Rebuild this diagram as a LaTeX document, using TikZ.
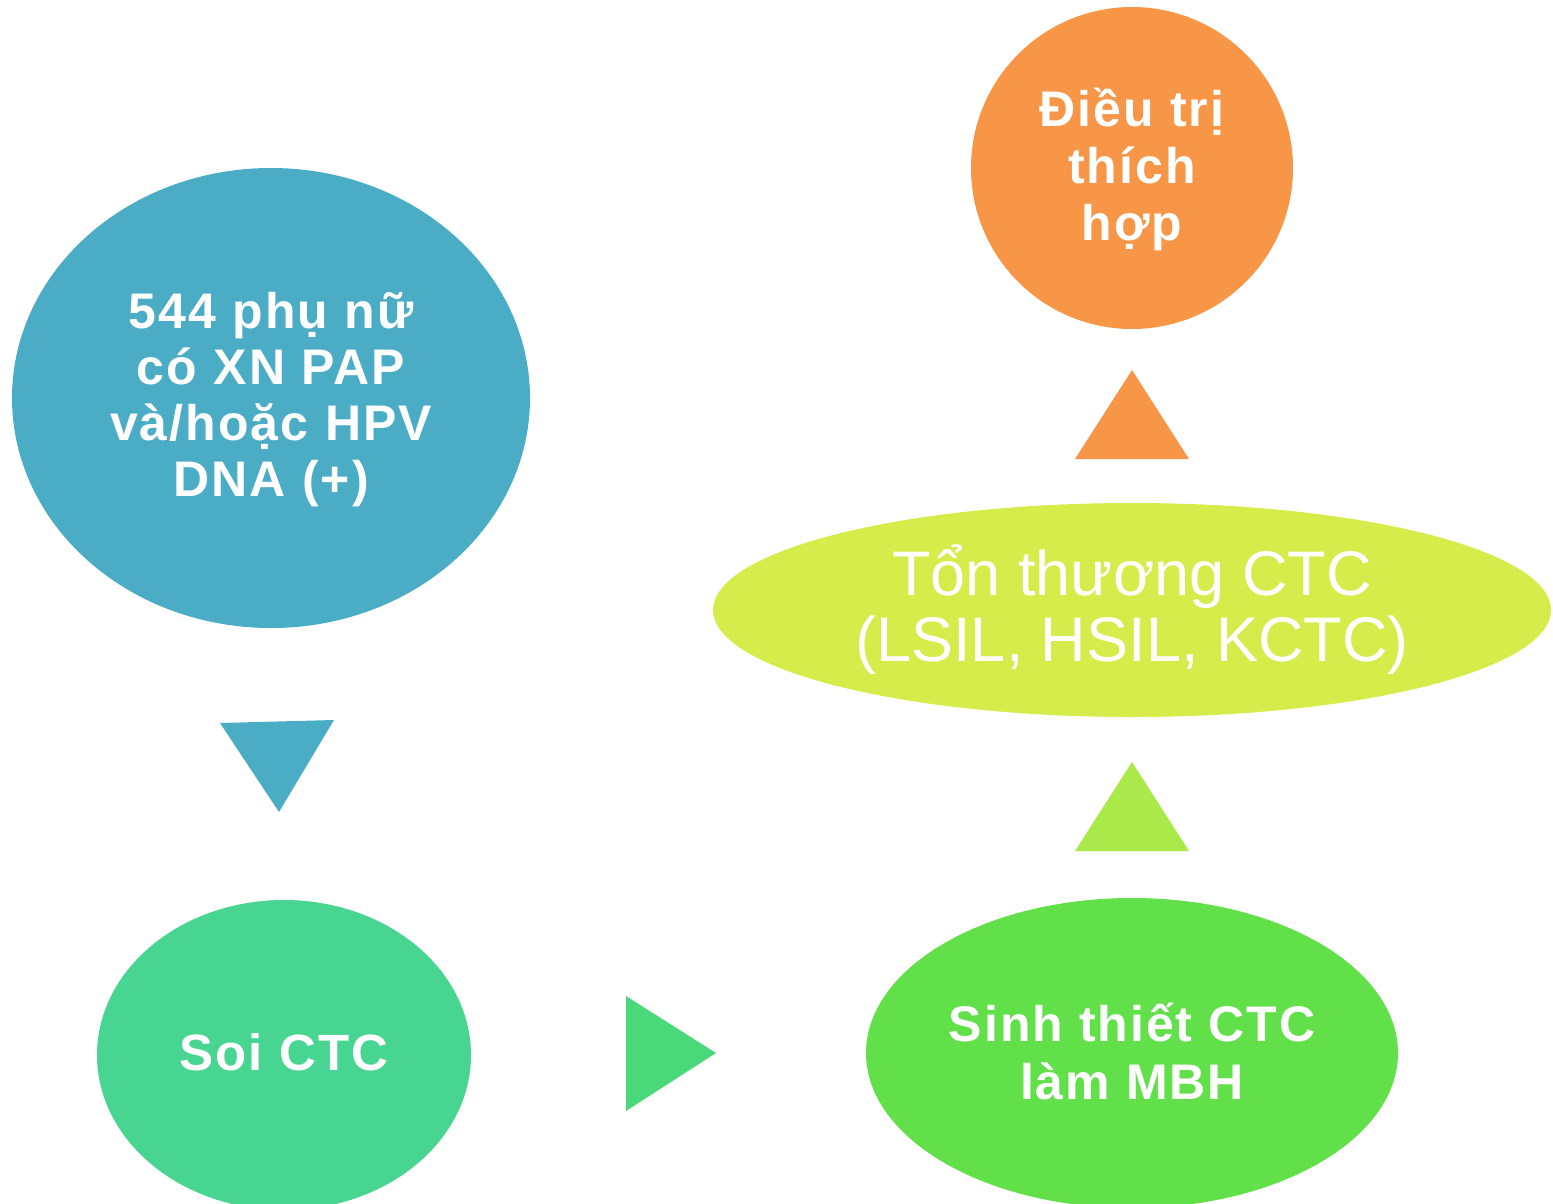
\documentclass[tikz,border=0pt]{standalone}
\usepackage{fontspec}
\setmainfont{Liberation Sans}
\newfontfamily\spaced[LetterSpace=4]{Liberation Sans}
\usetikzlibrary{shapes.geometric}
\definecolor{cblue}{HTML}{4BACC6}
\definecolor{corange}{HTML}{F79646}
\definecolor{cyell}{HTML}{D5EC4A}
\definecolor{cteal}{HTML}{48D591}
\definecolor{cgreen}{HTML}{62E04A}
\definecolor{ctri}{HTML}{4AD97A}
\definecolor{clgreen}{HTML}{ABE84A}
\tikzset{
  blob/.style={ellipse, inner sep=0pt, text=white, align=center, font=\spaced\bfseries\fontsize{50}{57}\selectfont},
}
\begin{document}
\begin{tikzpicture}[x=1pt,y=-1pt]
\useasboundingbox (0,0) rectangle (1553,1203);
\begin{scope}
\clip (0,0) rectangle (1553,1203);
\node[blob, fill=cblue, minimum width=518pt, minimum height=460pt] (a) at (271,398) {};
\node[blob, text width=400pt, font=\spaced\bfseries\fontsize{50}{56}\selectfont] (at) at (271,400) {544 phụ nữ\\có XN PAP\\và/hoặc HPV\\DNA (+)};
\node[blob, fill=cteal, minimum width=374pt, minimum height=310pt] (b) at (284,1055) {};
\node[blob, font=\spaced\bfseries\fontsize{51}{60}\selectfont] (bt) at (284,1052) {Soi CTC};
\node[blob, fill=cgreen, minimum width=532pt, minimum height=310pt] (c) at (1132,1053) {};
\node[blob, font=\spaced\bfseries\fontsize{50}{58}\selectfont] (ct) at (1132,1052) {Sinh thiết CTC\\làm MBH};
\node[blob, fill=cyell, minimum width=838pt, minimum height=214pt] (d) at (1132,610) {};
\node[blob, font=\fontsize{63}{66}\selectfont] (dt) at (1132,610) {Tổn thương CTC\\(LSIL, HSIL, KCTC)};
\node[blob, fill=corange, minimum width=322pt, minimum height=322pt] (e) at (1132,168) {};
\node[blob] (et) at (1132,169) {Điều trị\\thích\\hợp};
\end{scope}
\fill[cblue] (220,723) -- (334,720) -- (279,812) -- cycle;
\fill[ctri] (626,996) -- (626,1111) -- (716,1053) -- cycle;
\fill[clgreen] (1075,851) -- (1189,851) -- (1132,762) -- cycle;
\fill[corange] (1075,459) -- (1189,459) -- (1132,370) -- cycle;
\end{tikzpicture}
\end{document}
